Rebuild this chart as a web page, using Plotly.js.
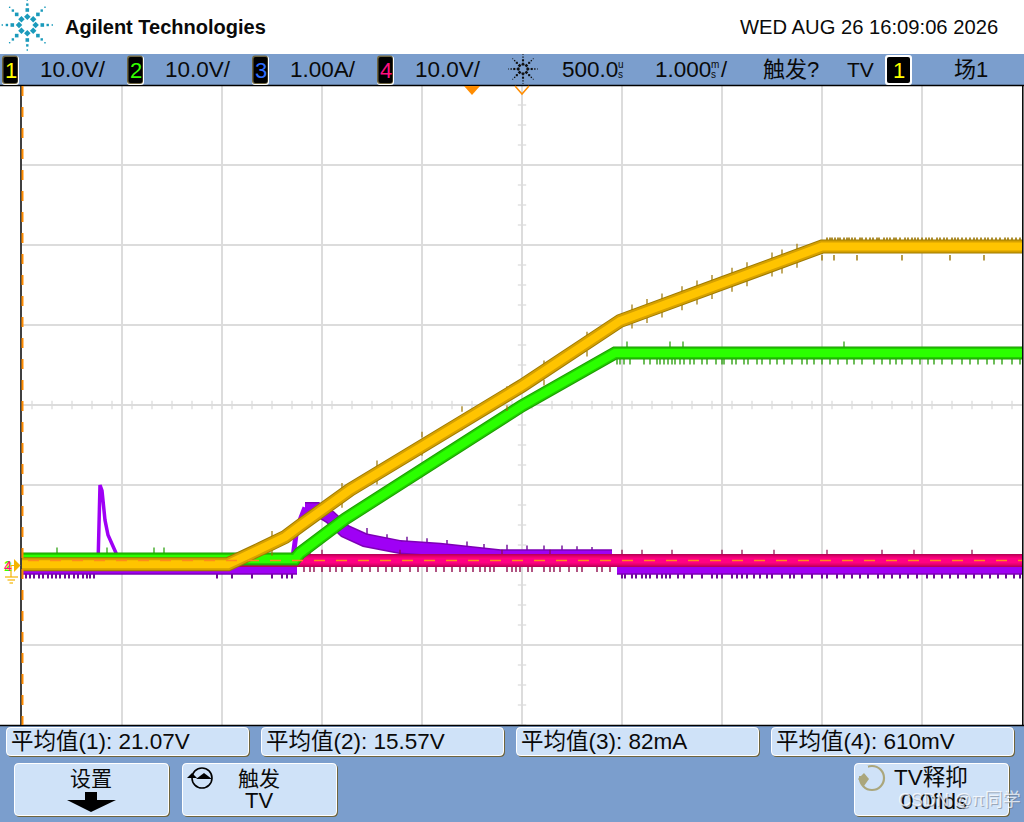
<!DOCTYPE html>
<html><head><meta charset="utf-8">
<script src="https://cdn.plot.ly/plotly-3.0.1.min.js"></script>
<style>html,body{margin:0;padding:0;background:#fff}#c{width:1024px;height:822px}</style>
</head><body><div id="c"></div>
<script>
// ---- waveform data: time in ms from trigger, channels in V, channel 3 in A ----
const ch1T=[-4.5,-2.44,-2.1,-1.87,-1.72,-1.22,0.5,1.48,2.5,3.5,5.5];
const ch1V=[0.1,0.1,2.1,3.5,4.9,9.4,22.4,30.5,35.2,39.8,39.8];
const ch2T=[-4.5,-1.77,-1.72,-1.27,0.5,1.43,5.5];
const ch2V=[0.75,0.75,1.5,5.75,19.9,26.5,26.5];
const ch3BaseT=[-4.5,-1.75,null,1.45,5.5];
const ch3BaseA=[-0.04,-0.04,null,-0.04,-0.04];
const ch3SpikeT=[-3.74,-3.73,-3.72,-3.7,-3.67,-3.64,-3.6,-3.56,-3.52];
const ch3SpikeA=[0,0.85,1.0,0.93,0.56,0.375,0.25,0.15,0.05];
const ch3RiseT=[-1.8,-1.76,-1.72,-1.67];
const ch3RiseA=[0,0.38,0.56,0.72];
const ch3HumpT=[-1.67,-1.55,-1.42,-1.27,-1.07,-0.72,-0.32,0.28,1.4];
const ch3HumpA=[0.70,0.70,0.6,0.425,0.31,0.225,0.19,0.11,0.11];
const ch4T=[-4.5,5.5];
const ch4V=[0.55,0.55];
const trigLevel=[0.56,0.56];
// noise ticks (ms)
const ch1TopT=[3.55,3.58,3.6,3.63,3.66,3.68,3.72,3.75,3.77,3.8,3.83,3.88,3.9,3.94,3.98,4.01,4.05,4.07,4.12,4.15,4.18,4.22,4.24,4.28,4.33,4.36,4.4,4.43,4.46,4.5,4.54,4.57,4.6,4.65,4.68,4.72,4.75,4.8,4.83,4.86,4.9,4.94,4.98,5.02,5.05,5.09,5.13,5.16,5.2,5.24,5.28,5.33,5.36,5.4,5.44,5.48];
const ch1BotT=[3.5,3.62,3.85,4.3,4.78,5.12];
const ch1SlopeT=[-2.0,-1.3,-0.95,-0.5,-0.1,0.35,0.72,1.15,1.6,1.75,1.9,2.1,2.25,2.4,2.6,2.75,3.0,3.1,3.25];
const ch1SlopeHi=[3.9,9.9,12.7,16.3,19.5,22.0,25.2,28.8,32.2,32.9,33.6,34.5,35.2,35.9,36.8,37.5,38.7,39.1,39.8];
const ch1SlopeLo=[1.5,7.5,10.4,14.0,17.2,19.6,22.8,26.4,29.9,30.6,31.3,32.2,32.9,33.6,34.5,35.2,36.4,36.8,37.5];
const ch2TopLeftT=[-4.15,-3.65,-3.18,-3.08,-2.1];
const ch2TopRightT=[1.55,1.98,2.11,3.72];
const ch2BotT=[1.45,1.48,1.52,1.58,1.72,1.78,1.85,1.88,1.92,1.96,2.0,2.03,2.08,2.12,2.18,2.22,2.3,2.35,2.44,2.5,2.52,2.6,2.64,2.72,2.76,2.85,2.9,2.98,3.05,3.12,3.2,3.3,3.35,3.42,3.5,3.58,3.66,3.75,3.82,3.9,4.02,4.1,4.18,4.24,4.3,4.4,4.48,4.56,4.62,4.7,4.8,4.9,4.98,5.06,5.15,5.22,5.3,5.4,5.48];
const ch4BotT=[-1.68,-1.62,-1.58,-1.5,-1.42,-1.36,-1.3,-1.2,-1.1,-1.02,-0.94,-0.86,-0.8,-0.72,-0.62,-0.54,-0.45,-0.36,-0.28,-0.2,-0.12,-0.06,0.01,0.08,0.13,0.18,0.22,0.35,0.4,0.44,0.48,0.56,0.6,0.72,0.78,0.82,0.88,0.97,1.05,1.1,1.25,1.3,1.38];
const ch4TopT=[-1.62,-1.5,-0.72,0.3,0.78,1.5,1.7,2.0,2.5,2.7,3.02,3.55,4.1,4.42,5.0];
const ch3BotT=[-4.46,-4.42,-4.38,-4.33,-4.29,-4.24,-4.2,-4.16,-4.12,-4.07,-4.03,-3.98,-3.94,-3.89,-3.85,-3.82,-3.78,-2.55,-2.4,-2.2,-2.0,-1.9,-1.85,-1.8,1.5,1.53,1.6,1.64,1.7,1.74,1.78,1.85,1.9,1.94,1.98,2.06,2.12,2.2,2.3,2.4,2.45,2.5,2.6,2.65,2.7,2.75,2.82,2.88,2.95,3.0,3.1,3.18,3.22,3.3,3.4,3.5,3.55,3.65,3.72,3.8,3.88,3.96,4.06,4.12,4.2,4.28,4.36,4.45,4.55,4.62,4.7,4.78,4.86,4.94,5.02,5.1,5.18,5.26,5.34,5.42,5.48];
const ch3TopT=[-1.3,-1.05,-0.85,-0.65,-0.45,-0.25,-0.05,0.12,0.35,0.55,0.72,0.9,1.05,1.2];
const ch3TopA=[0.55,0.42,0.34,0.31,0.29,0.27,0.25,0.22,0.21,0.2,0.2,0.2,0.19,0.18];
// ---- text ----
const scaleLabels=["10.0V/","10.0V/","1.00A/","10.0V/"];
const meanLabels=["平均值(1): 21.07V","平均值(2): 15.57V","平均值(3): 82mA","平均值(4): 610mV"];
const channelColors=["#ffff00","#33ff00","#2f6fff","#ff0f80"];

// ---- page furniture, in screen pixels ----
const PL=22,PW=1000,PB=725,PH=640;
const X=x=>(x-PL)/PW, Y=y=>(PB-y)/PH;
const shapes=[],ann=[];
const BLUE="#7b9ecd",FACE="#cfe2f8",OLIVE="#6e6540";
function rectS(x0,y0,x1,y1,fill,layer){shapes.push({type:"rect",xref:"paper",yref:"paper",x0:X(x0),x1:X(x1),y0:Y(y1),y1:Y(y0),fillcolor:fill,line:{width:0},layer:layer||"above"});}
function pathS(pts,fill,lineColor,w){const d=pts.map((p,i)=>(i?"L":"M")+X(p[0])+","+Y(p[1])).join(" ")+(fill?" Z":"");
 shapes.push({type:"path",xref:"paper",yref:"paper",path:d,fillcolor:fill||"rgba(0,0,0,0)",line:{width:w||0,color:lineColor||"rgba(0,0,0,0)"},layer:"above"});}
function lineS(x0,y0,x1,y1,color,w,dash){shapes.push({type:"line",xref:"paper",yref:"paper",x0:X(x0),x1:X(x1),y0:Y(y0),y1:Y(y1),line:{color:color,width:w,dash:dash||"solid"},layer:"above"});}
function roundS(x0,y0,x1,y1,r,fill){
 const d=`M${X(x0+r)},${Y(y0)} L${X(x1-r)},${Y(y0)} Q${X(x1)},${Y(y0)} ${X(x1)},${Y(y0+r)} L${X(x1)},${Y(y1-r)} Q${X(x1)},${Y(y1)} ${X(x1-r)},${Y(y1)} L${X(x0+r)},${Y(y1)} Q${X(x0)},${Y(y1)} ${X(x0)},${Y(y1-r)} L${X(x0)},${Y(y0+r)} Q${X(x0)},${Y(y0)} ${X(x0+r)},${Y(y0)} Z`;
 shapes.push({type:"path",xref:"paper",yref:"paper",path:d,fillcolor:fill,line:{width:0},layer:"above"});}
function circS(cx,cy,r,color,w){shapes.push({type:"circle",xref:"paper",yref:"paper",x0:X(cx-r),x1:X(cx+r),y0:Y(cy+r),y1:Y(cy-r),line:{color:color,width:w},fillcolor:"rgba(0,0,0,0)",layer:"above"});}
function txt(x,y,t,size,opt){opt=opt||{};ann.push({xref:"paper",yref:"paper",x:X(x),y:Y(y),text:t,showarrow:false,xanchor:opt.a||"left",yanchor:"middle",borderpad:0,
 font:{family:opt.f||'"Liberation Sans","Noto Sans CJK SC",sans-serif',size:size,color:opt.c||"#0a0a0a"}});}
function burst(cx,cy,k,color){for(let i=0;i<8;i++){const t=i*Math.PI/4,c=Math.cos(t),s=Math.sin(t);
 [[8.3,5.2],[15,3.6],[20.4,2.4],[25,1.4]].forEach(rs=>{const px=cx+k*rs[0]*c,py=cy+k*rs[0]*s,h=Math.max(k*rs[1],0.9)/2;
  if(rs[0]<9) pathS([[px-h*1.25,py],[px,py-h*1.25],[px+h*1.25,py],[px,py+h*1.25]],color); else rectS(px-h,py-h,px+h,py+h,color);});}}
function button(x0,y0,x1,y1){roundS(x0,y0,x1+1,y1+1,5,OLIVE);roundS(x0-1,y0-1,x1,y1,5,"#ffffff");roundS(x0,y0,x1-1,y1-1,4,FACE);}
function badge(x0,x1,digit,color){roundS(x0,56,x1,85,3,"#ffffff");roundS(x0,55.5,x1-1,84,3,OLIVE);roundS(x0+1.5,57,x1-1.5,83,2,"#000000");
 txt((x0+x1)/2,70,digit,22,{a:"center",c:color});}

// blue bands
rectS(0,54,1024,85,BLUE);rectS(0,726,1024,822,BLUE);
// plot frame
lineS(0,85.5,1024,85.5,"#000000",1.5);lineS(0,725.5,1024,725.5,"#000000",1.5);
lineS(21,85,21,726,"#000000",1.5);lineS(1022.8,85,1022.8,726,"#000000",1.5);
lineS(22.5,86,22.5,725,"#ff8c00",2,"10px,11px");
// header
burst(27.3,25,1,"#1a9abb");
txt(64,26.5,"<b>Agilent Technologies</b>",20,{});
txt(999,26.5,"WED AUG 26 16:09:06 2026",20.2,{a:"right"});
// channel strip
[[2,19],[127,144],[252,269],[377,394]].forEach((b,i)=>badge(b[0],b[1],String(i+1),channelColors[i]));
[39,164,289,414].forEach((x,i)=>txt(x,69.5,scaleLabels[i],22.5));
burst(523,69,0.58,"#101010");
txt(561,69.5,"500.0",22.5);
txt(617,64.5,"u",10);txt(617,74.5,"s",10);
txt(654,69.5,"1.000",22.5);
txt(710,64.5,"m",10);txt(710,74.5,"s",10);txt(720,69.5,"/",22);
txt(762,69.5,"触发?",22);
txt(846,69.5,"TV",21);
roundS(885,55,912,85,3,"#ffffff");roundS(887,57,910,83,2,"#000000");txt(898.5,70,"1",22,{a:"center",c:channelColors[0]});
txt(953,69.5,"场1",22);
// trigger markers
pathS([[464,86],[480,86],[472,95]],"#ff8c00");
pathS([[515,86],[522,94],[529,86]],null,"#ff8c00",1.5);
// ground marker
[["1","#ffff00"],["2","#33ff00"],["4","#ff0f80"]].forEach(d=>txt(7.5,566,d[0],14,{a:"center",c:d[1]}));
pathS([[14,559],[20.5,565.5],[14,572]],"#f5b400");
pathS([[14,565.5],[11,565.5],[11,577]],null,"#f5b400",1.2);
lineS(5,577,18,577,"#f5b400",1.2);lineS(7.5,580,15,580,"#f5b400",1.2);lineS(9.5,583,13,583,"#f5b400",1.2);
// measurement boxes
[7,262,517,772].forEach((x,i)=>{button(x,728,x+242,756);txt(x+3,741.5,meanLabels[i],22.5);});
// soft keys
button(15,764,169,816);txt(91,778.5,"设置",21,{a:"center"});
pathS([[85,792],[97,792],[97,800],[116,800],[91,812],[67,800],[85,800]],"#000000");
button(183,764,337,816);txt(259,778.5,"触发",21,{a:"center"});txt(259,800,"TV",22,{a:"center"});
circS(202,778,10,"#000000",1.6);
pathS([[187,778],[197,778],[192,773]],"#000000");pathS([[196,779],[212,779],[204,773]],"#000000");
button(855,764,1009,816);
circS(872,778,12,"#aaa67c",2.2);
rectS(857,766,868,776,FACE);
pathS([[858,779],[869,779],[864,773]],"#aaa67c");pathS([[858,779],[869,779],[864,786]],"#aaa67c");
txt(893,777.5,"TV释抑",22.5);
txt(934,801,"0.0flds",22.5,{a:"center"});
txt(898,801,"CSDN @π同学",18,{c:"rgba(110,120,135,0.55)"});
txt(897,800,"CSDN @π同学",18,{c:"rgba(255,255,255,0.72)"});

// centre graticule ticks (0.2 ms / 2.5 V steps)
const graticuleT=[],graticuleV=[];
for(let i=-22;i<=27;i++){graticuleT.push(i*0.2);}
for(let i=-8;i<=24;i++){graticuleV.push(i*2.5);}
const tickStyle=(sym)=>({symbol:sym,size:6,color:"#dcdcdc",line:{color:"#dcdcdc",width:1.3}});

// ---- traces ----
const perDiv=10; // 1 A/div is drawn on the same graticule as 10 V/div
const amps=a=>a.map(v=>v===null?null:v*perDiv);
const lay=(x,y,w,c)=>({x,y,mode:"lines",line:{width:w,color:c},hoverinfo:"skip",showlegend:false});
const tick=(x,y,size,c,w)=>({x,y,mode:"markers",marker:{symbol:"line-ns",size:size,color:c,line:{color:c,width:w||1.2}},hoverinfo:"skip",showlegend:false});
const level=(arr,v)=>arr.map(()=>v);
const data=[
 {x:graticuleT,y:graticuleT.map(()=>20),mode:"markers",marker:tickStyle("line-ns"),hoverinfo:"skip",showlegend:false},
 {x:graticuleV.map(()=>0.5),y:graticuleV,mode:"markers",marker:tickStyle("line-ew"),hoverinfo:"skip",showlegend:false},
 // channel 3
 tick(ch3BotT,level(ch3BotT,-1.25),5,"#6c0a96",2),
 tick(ch3TopT,amps(ch3TopA),5,"#6c0a96",1.4),
 lay(ch3BaseT,amps(ch3BaseA),13,"#7d00b4"),lay(ch3BaseT,amps(ch3BaseA),10,"#9f00f5"),
 lay(ch3SpikeT,amps(ch3SpikeA),3.5,"#9f00f5"),
 lay(ch3RiseT,amps(ch3RiseA),5,"#9f00f5"),
 lay(ch3HumpT,amps(ch3HumpA),14,"#7d00b4"),lay(ch3HumpT,amps(ch3HumpA),11,"#9f00f5"),
 // channel 4
 tick(ch4BotT,level(ch4BotT,-0.45),5,"#8e0a4c",1.4),
 tick(ch4TopT,level(ch4TopT,1.55),4,"#8e0a4c",1.2),
 lay(ch4T,ch4V,13,"#bd0058"),lay(ch4T,ch4V,10,"#e6006f"),lay(ch4T,ch4V,6,"#ff0084"),
 // channel 2
 tick(ch2TopLeftT,level(ch2TopLeftT,1.75),5,"#1f9a00",1.2),
 tick(ch2TopRightT,level(ch2TopRightT,27.5),5,"#1f9a00",1.2),
 tick(ch2BotT,level(ch2BotT,25.4),4,"#1f9a00",1.3),
 lay(ch2T,ch2V,13,"#1d9c00"),lay(ch2T,ch2V,11,"#20cf00"),lay(ch2T,ch2V,8,"#2bff00"),
 // channel 1
 tick(ch1TopT,level(ch1TopT,40.5),5,"#9a7400",1.6),
 tick(ch1BotT,level(ch1BotT,38.4),4,"#9a7400",1.4),
 tick(ch1SlopeT,ch1SlopeHi,4,"#9a7400",1.2),
 tick(ch1SlopeT,ch1SlopeLo,4,"#9a7400",1.2),
 lay(ch1T,ch1V,14,"#9e7a00"),lay(ch1T,ch1V,12,"#d6a100"),lay(ch1T,ch1V,8,"#ffc400"),
 // trigger level
 Object.assign(lay([-4.44,5.5],trigLevel,1.5,"#ff8c1a"),{line:{width:1.5,color:"#ff8c1a",dash:"11px,11px"}})
];

const axisBase={showticklabels:false,ticks:"",showline:false,zeroline:false,showgrid:true,gridcolor:"#dcdcdc",gridwidth:1.4,fixedrange:true};
const layout={width:1024,height:822,margin:{l:PL,r:2,t:85,b:97,pad:0},paper_bgcolor:"#ffffff",plot_bgcolor:"#ffffff",showlegend:false,
 xaxis:Object.assign({},axisBase,{range:[-4.5,5.5],tick0:-4.5,dtick:1}),
 yaxis:Object.assign({},axisBase,{range:[-20,60],tick0:-20,dtick:10}),
 shapes:shapes,annotations:ann};
Plotly.newPlot("c",data,layout,{displayModeBar:false,staticPlot:true});
</script></body></html>
